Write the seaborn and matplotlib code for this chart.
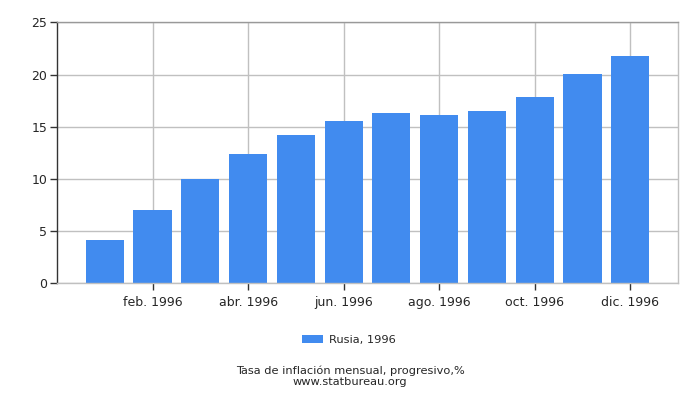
import matplotlib
matplotlib.use("Agg")
import matplotlib.pyplot as plt
import seaborn as sns
import pandas as pd

months = ['ene. 1996', 'feb. 1996', 'mar. 1996', 'abr. 1996', 'may. 1996', 'jun. 1996',
          'jul. 1996', 'ago. 1996', 'sep. 1996', 'oct. 1996', 'nov. 1996', 'dic. 1996']
inflation = [4.15, 7.02, 9.99, 12.39, 14.21, 15.55, 16.32, 16.12, 16.51, 17.85, 20.05, 21.78]
series_name = 'Rusia, 1996'
title = 'Tasa de inflación mensual, progresivo,%'
source = 'www.statbureau.org'

df = pd.DataFrame({'Mes': months, 'Inflacion': inflation})

sns.set_style('white')
plt.rcParams['font.family'] = ['DejaVu Sans']

fig = plt.figure(figsize=(7, 4), dpi=100)
ax = fig.add_axes([0.0814, 0.292, 0.8872, 0.652])

sns.barplot(x='Mes', y='Inflacion', data=df, color='#418bef', width=0.8,
            saturation=1, linewidth=0, ax=ax, label=series_name, zorder=2)

ax.set_xlim(-1, 12)
ax.set_ylim(0, 25)
ax.set_yticks([0, 5, 10, 15, 20, 25])
ticks = list(range(1, 12, 2))
ax.set_xticks(ticks)
ax.set_xticklabels([months[i] for i in ticks], fontsize=9)
ax.tick_params(axis='y', labelsize=9, length=5, width=1, color='#333333', direction='out', left=True, pad=2)
ax.tick_params(axis='x', length=5, width=1, color='#333333', direction='out', bottom=True, pad=4)
ax.set_xlabel('')
ax.set_ylabel('')

ax.grid(True, color='#c0c0c0', linewidth=1, zorder=0)
ax.set_axisbelow(True)
for side in ['top', 'right', 'bottom']:
    ax.spines[side].set_color('#c0c0c0')
ax.spines['top'].set_color('#999999')
ax.spines['left'].set_color('#333333')
for s in ax.spines.values():
    s.set_linewidth(1)

ax.legend(loc='center', bbox_to_anchor=(0.47, -0.218), frameon=False, fontsize=8.2,
          handlelength=1.85, handleheight=0.75, handletextpad=0.45)

fig.text(0.5, 0.072, title, ha='center', va='center', fontsize=8.2)
fig.text(0.5, 0.044, source, ha='center', va='center', fontsize=8.2)

fig.savefig('out.png', dpi=100)
